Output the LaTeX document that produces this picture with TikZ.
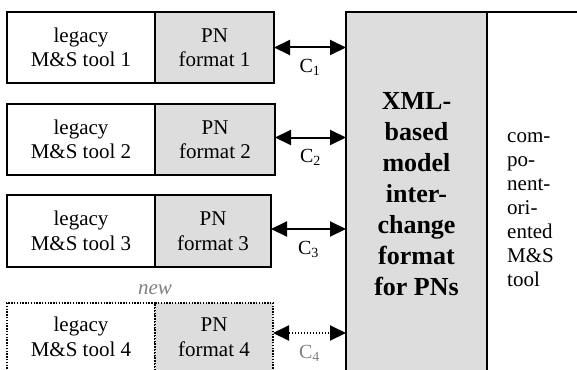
\documentclass[tikz,border=0pt]{standalone}
\usepackage{fontspec}
\setmainfont{Liberation Serif}
\usetikzlibrary{positioning,arrows.meta}
\definecolor{boxgray}{RGB}{221,221,221}
\definecolor{newgray}{RGB}{128,128,128}
\tikzset{
	tool/.style ={rectangle, draw, line width=1.6pt, inner sep=0pt, outer sep=0pt, minimum width=148pt, minimum height=71pt, align=center, font=\fontsize{21}{24.5}\selectfont}, % legacy tool box
	format/.style ={tool, fill=boxgray},
	newbox/.style ={line width=1.3pt, dash pattern=on 1.4pt off 1.4pt},
	link/.style ={{Triangle[length=16pt,width=15pt]}-{Triangle[length=16pt,width=15pt]}, line width=2pt},
	clabel/.style ={inner sep=0pt, font=\fontsize{20}{24}\selectfont}
}
\begin{document}
\begin{tikzpicture}[node distance = 0pt]
	\useasboundingbox (0,0) rectangle (577pt,-369pt);
	\clip (0,0) rectangle (577pt,-369pt);
	\tikzset{big node/.style = {rectangle, draw, line width=1.6pt, inner sep=0pt, outer sep=0pt, minimum height=364pt}}
	\node[tool, anchor=north west] (t1) at (7pt,-12pt) {legacy\\M\&S tool 1};
	\node[format, minimum width=119pt] (f1) [right=0pt of t1] {PN\\format 1};
	\node[tool] (t2) [below=21pt of t1] {legacy\\M\&S tool 2};
	\node[format, minimum width=120pt] (f2) [right=0pt of t2] {PN\\format 2};
	\node[tool, minimum height=72pt] (t3) [below=20pt of t2] {legacy\\M\&S tool 3};
	\node[format, minimum width=116pt, minimum height=72pt] (f3) [right=0pt of t3] {PN\\format 3};
	\node[tool, newbox, minimum height=68pt] (t4) [below=36pt of t3] {legacy\\M\&S tool 4};
	\node[format, newbox, minimum width=118pt, minimum height=68pt] (f4) [right=0pt of t4] {PN\\format 4};
	\node[clabel, text=newgray, font=\fontsize{21}{24}\selectfont\itshape] (new) [above=8pt of t4.north east] {new};
	\node[big node, fill=boxgray, minimum width=141pt, anchor=north west] (xml) at (346pt,-12pt) {};
	\node[align=center, inner sep=0pt, font=\fontsize{26}{31}\selectfont\bfseries] (xmltext) at (xml.center) {XML-\\based\\model\\inter-\\change\\format\\for PNs};
	\node[big node, minimum width=100pt] (comp) [right=0pt of xml] {};
	\node[align=left, inner sep=0pt, font=\fontsize{21}{24}\selectfont, anchor=west] (comptext) at ([xshift=20pt,yshift=-16pt]comp.west) {com-\\po-\\nent-\\ori-\\ented\\M\&S\\tool};
	\draw[link] (f1.east) -- node[clabel, below=11pt] (c1) {C\textsubscript{1}} (f1.east -| xml.west);
	\draw[link] ([yshift=2pt]f2.east) -- node[clabel, below=11pt] (c2) {C\textsubscript{2}} ([yshift=2pt]f2.east -| xml.west);
	\draw[link] ([yshift=2pt]f3.east) -- node[clabel, below=11pt] (c3) {C\textsubscript{3}} ([yshift=2pt]f3.east -| xml.west);
	\draw[link, dash pattern=on 1.5pt off 1.5pt] ([yshift=4pt]f4.east) -- node[clabel, below=11pt, text=newgray] (c4) {C\textsubscript{4}} ([yshift=4pt]f4.east -| xml.west);
\end{tikzpicture}
\end{document}
